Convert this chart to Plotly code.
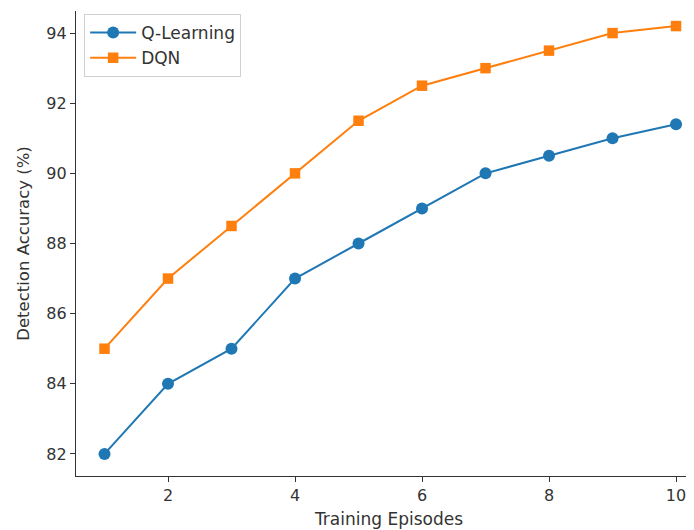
import plotly.graph_objects as go

episodes = [1, 2, 3, 4, 5, 6, 7, 8, 9, 10]
q_learning = [82, 84, 85, 87, 88, 89, 90, 90.5, 91, 91.4]
dqn = [85, 87, 88.5, 90, 91.5, 92.5, 93, 93.5, 94, 94.2]
x_ticks = [2, 4, 6, 8, 10]
y_ticks = [82, 84, 86, 88, 90, 92, 94]

fig = go.Figure()
fig.add_trace(go.Scatter(x=episodes, y=q_learning, name="Q-Learning", mode="lines+markers",
                         line=dict(color="#1f77b4", width=2),
                         marker=dict(symbol="circle", size=12, color="#1f77b4")))
fig.add_trace(go.Scatter(x=episodes, y=dqn, name="DQN", mode="lines+markers",
                         line=dict(color="#ff7f0e", width=2),
                         marker=dict(symbol="square", size=10.5, color="#ff7f0e")))

tick_font = dict(family="DejaVu Sans", size=16, color="#333333")
title_font = dict(family="DejaVu Sans", size=16.5, color="#333333")
fig.update_layout(
    width=694, height=530,
    margin=dict(l=68, r=0, t=3, b=62),
    plot_bgcolor="white", paper_bgcolor="white",
    font=tick_font,
    showlegend=True,
    legend=dict(x=0.013, y=0.9935, xanchor="left", yanchor="top",
                bordercolor="#d0d0d0", borderwidth=1, bgcolor="rgba(255,255,255,0.8)",
                font=dict(family="DejaVu Sans", size=17, color="#333333"),
                itemwidth=46),
    xaxis=dict(range=[0.551, 10.409], tickvals=x_ticks, showgrid=False, zeroline=False,
               showline=True, linecolor="#333333", linewidth=1.3, ticks="outside",
               ticklen=5, tickcolor="#333333", tickfont=tick_font,
               title=dict(text="Training Episodes", standoff=8,
                          font=dict(family="DejaVu Sans", size=17, color="#333333"))),
    yaxis=dict(range=[81.37, 94.63], tickvals=y_ticks, showgrid=False, zeroline=False,
               showline=True, linecolor="#333333", linewidth=1.3, ticks="outside",
               ticklen=5, tickcolor="#333333", tickfont=tick_font,
               title=dict(text="Detection Accuracy (%)", standoff=12, font=title_font)),
)

fig.write_html("out.html")
